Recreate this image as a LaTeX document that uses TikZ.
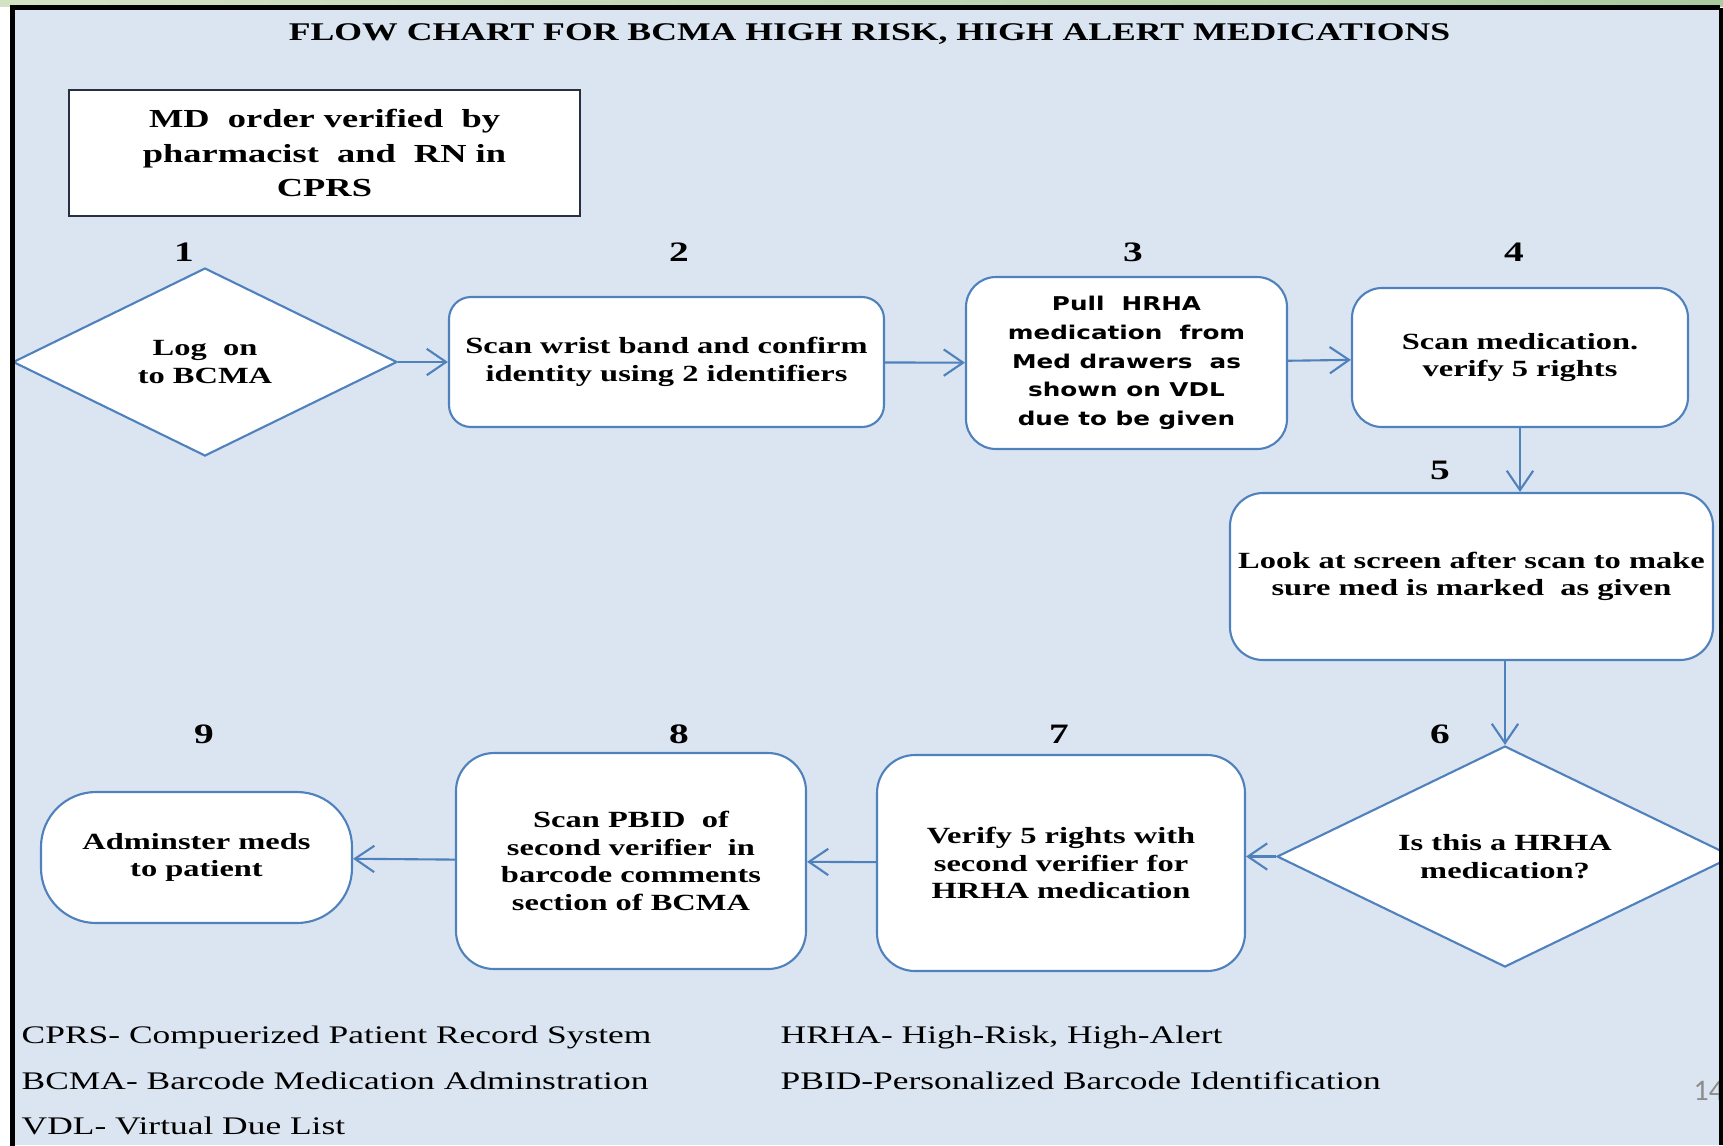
\documentclass[tikz,border=0pt]{standalone}
\usepackage{fontspec}
\setmainfont{Liberation Serif}[FakeStretch=1.4]
\newfontfamily\pullfont{DejaVu Sans}[FakeStretch=1.3]
\newfontfamily\pagefont{Carlito}
\usetikzlibrary{shapes.geometric, arrows.meta}
\definecolor{chartbg}{RGB}{219,229,241}
\definecolor{chartblue}{RGB}{79,129,189}
\definecolor{framedark}{RGB}{38,48,66}

\begin{document}
\begin{tikzpicture}[
    stepbox/.style={draw=chartblue, fill=white, line width=0.6pt, rounded corners=0.3cm, align=center, inner sep=0pt, font=\fontsize{6.6}{7.8}\selectfont\bfseries},
    choice/.style={diamond, aspect=2, draw=chartblue, fill=white, line width=0.6pt, align=center, inner sep=0pt, font=\fontsize{6.6}{7.8}\selectfont\bfseries},
    stepnum/.style={font=\fontsize{8}{9}\selectfont\bfseries},
    legend/.style={anchor=west, inner sep=0pt, font=\fontsize{7.2}{8}\selectfont},
    flow/.style={-{Straight Barb[length=5.5pt,width=7.5pt]}, color=chartblue, line width=0.6pt}
]
    \useasboundingbox (0,0) rectangle (17.23,-11.45);
    \fill [white] (0,0) rectangle (17.23,-11.45);
    \shade [left color={rgb,255:red,212;green,226;blue,196}, middle color={rgb,255:red,150;green,190;blue,192}, right color={rgb,255:red,170;green,202;blue,160}] (0,0) rectangle (17.23,-0.06);
    \fill [chartbg] (0.125,-0.075) rectangle (17.2,-11.45);

    \node at (8.695,-0.34) [font=\fontsize{7.25}{8}\selectfont\bfseries] (title) {FLOW CHART FOR BCMA HIGH RISK, HIGH ALERT MEDICATIONS};

    \node at (3.245,-1.53) [draw=framedark, fill=white, line width=0.6pt, minimum width=5.11cm, minimum height=1.26cm, align=center, font=\fontsize{7.4}{9.7}\selectfont\bfseries] (mdorder) {MD~ order verified~ by\\ pharmacist~ and~ RN in\\ CPRS};

    \node at (1.84,-2.52) [stepnum] (n1) {1};
    \node at (6.79,-2.52) [stepnum] (n2) {2};
    \node at (11.33,-2.52) [stepnum] (n3) {3};
    \node at (15.14,-2.52) [stepnum] (n4) {4};
    \node at (14.40,-4.70) [stepnum] (n5) {5};
    \node at (14.40,-7.34) [stepnum] (n6) {6};
    \node at (10.59,-7.34) [stepnum] (n7) {7};
    \node at (6.79,-7.34) [stepnum] (n8) {8};
    \node at (2.04,-7.34) [stepnum] (n9) {9};

    \node at (2.05,-3.62) [choice, minimum width=3.84cm, minimum height=1.88cm] (logon) {Log~ on\\ to BCMA};
    \node at (6.665,-3.62) [stepbox, minimum width=4.35cm, minimum height=1.30cm, rounded corners=0.22cm] (scanband) {Scan wrist band and confirm\\ identity using 2 identifiers};
    \node at (11.265,-3.63) [stepbox, minimum width=3.21cm, minimum height=1.72cm, font=\pullfont\fontsize{5.4}{8.2}\selectfont\bfseries] (pullmed) {Pull~ HRHA\\ medication~ from\\ Med drawers~ as\\ shown on VDL\\ due to be given};
    \node at (15.20,-3.575) [stepbox, minimum width=3.36cm, minimum height=1.39cm] (scanmed) {Scan medication.\\ verify 5 rights};
    \node at (14.715,-5.765) [stepbox, minimum width=4.83cm, minimum height=1.67cm, rounded corners=0.33cm] (lookscreen) {Look at screen after scan to make\\ sure med is marked~ as given};
    \node at (15.05,-8.565) [choice, minimum width=4.56cm, minimum height=2.21cm] (hrha) {Is this a HRHA\\ medication?};
    \node at (10.61,-8.63) [stepbox, minimum width=3.68cm, minimum height=2.16cm, rounded corners=0.38cm] (verify2) {Verify 5 rights with\\ second verifier for\\ HRHA medication};
    \node at (6.31,-8.61) [stepbox, minimum width=3.50cm, minimum height=2.16cm, rounded corners=0.38cm] (scanpbid) {Scan PBID~ of\\ second verifier~ in\\ barcode comments\\ section of BCMA};
    \node at (1.965,-8.575) [stepbox, minimum width=3.11cm, minimum height=1.31cm, rounded corners=0.55cm] (administer) {Adminster meds\\ to patient};

    \draw [flow] (logon) -- (scanband);
    \draw [flow] (scanband) -- (pullmed);
    \draw [flow] (pullmed) -- (scanmed);
    \draw [flow] (scanmed.south) -- (scanmed.south |- lookscreen.north);
    \draw [flow] (hrha.north |- lookscreen.south) -- (hrha.north);
    \draw [flow] (hrha.west) -- (hrha.west -| verify2.east);
    \draw [flow] (verify2) -- (scanpbid);
    \draw [flow] (scanpbid) -- (administer);

    \node at (0.21,-10.37) [legend] (cprs) {CPRS- Compuerized Patient Record System};
    \node at (0.21,-10.81) [legend] (bcma) {BCMA- Barcode Medication Adminstration};
    \node at (0.21,-11.26) [legend] (vdl) {VDL- Virtual Due List};
    \node at (7.80,-10.37) [legend] (hrhakey) {HRHA- High-Risk, High-Alert};
    \node at (7.80,-10.81) [legend] (pbid) {PBID-Personalized Barcode Identification};

    \node at (16.93,-10.91) [anchor=west, inner sep=0pt, text=black!45, font=\pagefont\fontsize{8.5}{10}\selectfont] (pagenum) {14};

    \fill [black] (17.19,-0.075) rectangle (17.23,-11.45);
    \draw [line width=0.05cm] (0.125,-11.5) -- (0.125,-0.075) -- (17.2,-0.075);
\end{tikzpicture}
\end{document}
